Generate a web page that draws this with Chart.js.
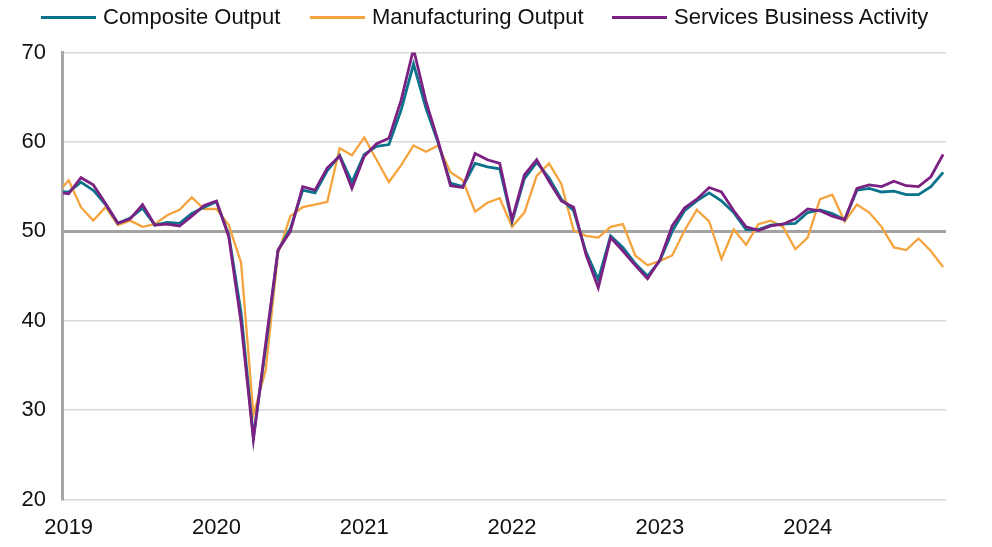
<!DOCTYPE html>
<html>
<head>
<meta charset="utf-8">
<script src="https://cdn.jsdelivr.net/npm/chart.js@4.4.1/dist/chart.umd.min.js"></script>
<style>
html,body{margin:0;padding:0;background:#fff;}
#wrap{position:relative;width:992px;height:547px;overflow:hidden;}
canvas{position:absolute;left:0;top:0;}
#legend{position:absolute;left:0;top:0;width:992px;height:36px;font-family:"Liberation Sans",Arial,sans-serif;font-size:22px;color:#111;z-index:2;}
.item{position:absolute;top:4px;height:26px;display:flex;align-items:center;white-space:nowrap;}
.swatch{display:inline-block;width:55px;height:3px;margin-right:7px;}
</style>
</head>
<body>
<div id="wrap">
  <canvas id="c" width="992" height="556"></canvas>
  <div id="legend"></div>
</div>
<script>
// ---- Data (monthly, first value = Dec 2018, index -1; Jan 2019 = index 0) ----
const startMonth = -1;
const yearLabels = ['2019', '2020', '2021', '2022', '2023', '2024'];
const yearTickPositions = [0, 12, 24, 36, 48, 60];
const yTickValues = [20, 30, 40, 50, 60, 70];
const seriesNames = ['Composite Output', 'Manufacturing Output', 'Services Business Activity'];

const compositeOutput = [54.4,
  54.4, 55.5, 54.6, 53.0, 50.9, 51.5, 52.6, 50.7, 51.0, 50.9, 52.0, 52.7,
  53.3, 49.6, 40.9, 27.0, 37.0, 47.9, 50.3, 54.6, 54.3, 56.8, 58.5, 55.5,
  58.6, 59.5, 59.7, 63.6, 68.7, 63.8, 59.9, 55.4, 55.0, 57.6, 57.2, 57.0,
  51.1, 55.9, 57.7, 56.0, 53.6, 52.3, 47.7, 44.6, 49.5, 48.2, 46.4, 45.0,
  46.7, 50.0, 52.3, 53.4, 54.3, 53.4, 52.1, 50.2, 50.2, 50.7, 50.8, 50.9,
  52.1, 52.4, 52.0, 51.3, 54.6, 54.8, 54.4, 54.5, 54.1, 54.1, 55.0, 56.6];

const manufacturingOutput = [54.1,
  55.7, 52.7, 51.2, 52.7, 50.7, 51.2, 50.5, 50.8, 51.8, 52.4, 53.8, 52.5,
  52.5, 50.7, 46.5, 29.5, 34.5, 47.5, 51.7, 52.7, 53.0, 53.3, 59.3, 58.5,
  60.5, 58.0, 55.5, 57.4, 59.6, 58.9, 59.6, 56.6, 55.7, 52.2, 53.2, 53.7,
  50.5, 52.1, 56.2, 57.6, 55.3, 50.1, 49.5, 49.3, 50.5, 50.8, 47.3, 46.2,
  46.7, 47.3, 50.1, 52.4, 51.1, 46.9, 50.2, 48.5, 50.8, 51.2, 50.5, 48.0,
  49.3, 53.6, 54.1, 51.1, 53.0, 52.1, 50.5, 48.2, 47.9, 49.2, 47.8, 46.0];

const servicesBusinessActivity = [54.4,
  54.2, 56.0, 55.2, 53.1, 50.9, 51.4, 53.0, 50.7, 50.8, 50.6, 51.7, 52.9,
  53.4, 49.4, 39.8, 26.7, 37.5, 47.9, 50.0, 55.0, 54.6, 57.1, 58.4, 54.8,
  58.4, 59.8, 60.4, 64.7, 70.4, 64.6, 60.1, 55.1, 54.9, 58.7, 58.0, 57.6,
  51.3, 56.3, 58.0, 55.6, 53.4, 52.7, 47.4, 43.7, 49.3, 47.8, 46.2, 44.7,
  46.8, 50.6, 52.6, 53.6, 54.9, 54.4, 52.3, 50.5, 50.1, 50.6, 50.8, 51.4,
  52.5, 52.3, 51.7, 51.3, 54.8, 55.2, 55.0, 55.6, 55.1, 55.0, 56.1, 58.6];

// ---- Styles ----
const colors = ['#0a738b', '#f5a33c', '#7b2183'];
const widths = [2.8, 2.3, 2.8];
const fontFamily = '"Liberation Sans", Arial, sans-serif';

function toPoints(arr) { return arr.map((v, i) => ({ x: startMonth + i, y: v })); }

const seriesData = [compositeOutput, manufacturingOutput, servicesBusinessActivity];
const drawOrder = [1, 2, 0];

// HTML legend
const legendLefts = [41, 310, 612];
const legendEl = document.getElementById('legend');
seriesNames.forEach((n, k) => {
  const it = document.createElement('div');
  it.className = 'item';
  it.style.left = legendLefts[k] + 'px';
  const sw = document.createElement('span');
  sw.className = 'swatch';
  sw.style.background = colors[k];
  const tx = document.createElement('span');
  tx.textContent = n;
  it.appendChild(sw); it.appendChild(tx);
  legendEl.appendChild(it);
});

new Chart(document.getElementById('c'), {
  type: 'line',
  data: {
    datasets: seriesData.map((arr, k) => ({
      label: seriesNames[k],
      data: toPoints(arr),
      borderColor: colors[k],
      backgroundColor: colors[k],
      borderWidth: widths[k],
      pointRadius: 0,
      pointHoverRadius: 0,
      tension: 0,
      fill: false,
      order: drawOrder[k],
      borderJoinStyle: 'miter'
    }))
  },
  options: {
    responsive: false,
    animation: false,
    devicePixelRatio: 1,
    layout: { padding: { top: 52.5, left: 4.5, right: 46, bottom: 0 } },
    plugins: { legend: { display: false }, tooltip: { enabled: false } },
    scales: {
      x: {
        type: 'linear',
        min: -0.46,
        max: 71.23,
        grid: { display: false, drawTicks: false },
        border: { display: false },
        afterBuildTicks: s => { s.ticks = yearTickPositions.map(v => ({ value: v })); },
        ticks: {
          autoSkip: false,
          maxRotation: 0,
          padding: 15,
          color: '#111',
          font: { family: fontFamily, size: 22 },
          callback: v => { const k = yearTickPositions.indexOf(v); return k >= 0 ? yearLabels[k] : ''; }
        }
      },
      y: {
        min: 20,
        max: 70,
        afterBuildTicks: s => { s.ticks = yTickValues.map(v => ({ value: v })); },
        grid: {
          drawTicks: false,
          color: c => (c.tick && c.tick.value === 50) ? '#a3a3a3' : '#d9d9d9',
          lineWidth: c => (c.tick && c.tick.value === 50) ? 3 : 1.6
        },
        border: { display: true, color: '#a6a6a6', width: 3 },
        ticks: {
          padding: 17,
          color: '#111',
          font: { family: fontFamily, size: 22 }
        }
      }
    }
  }
});
</script>
</body>
</html>
